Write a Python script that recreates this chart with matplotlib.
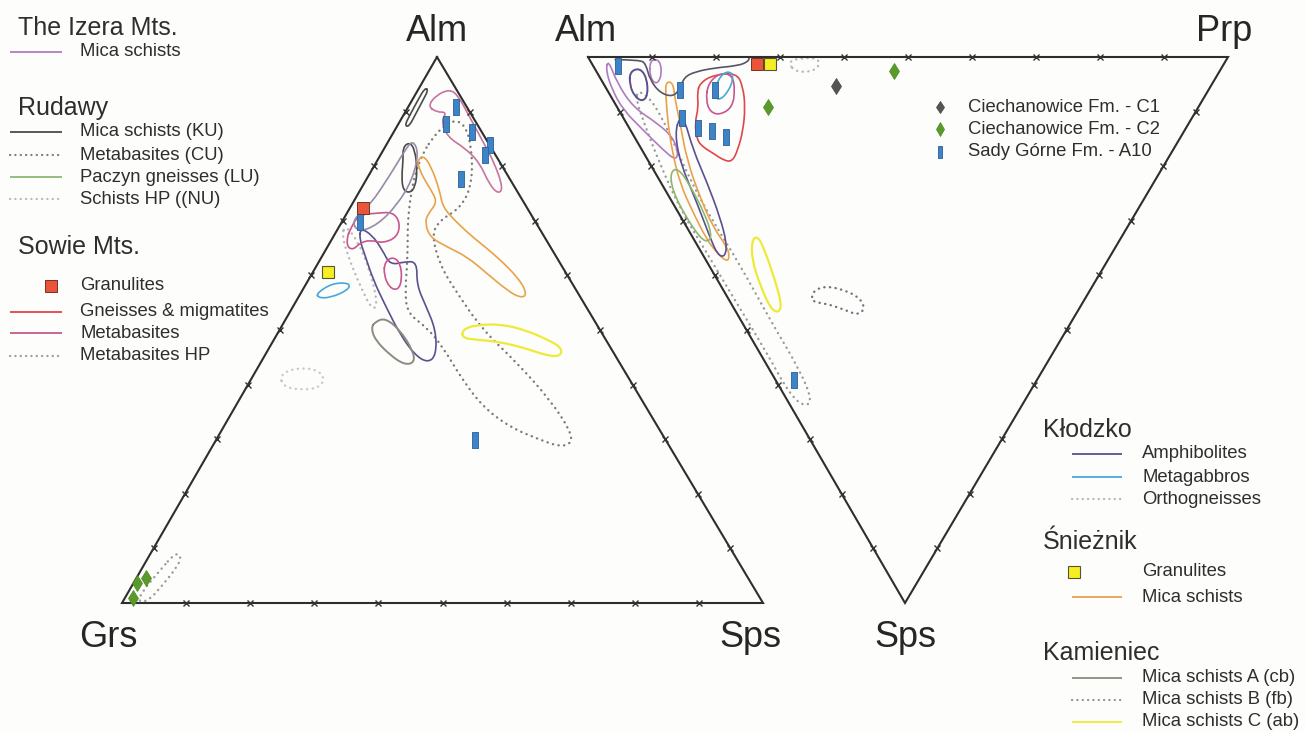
import numpy as np
import matplotlib
matplotlib.use('Agg')
import matplotlib.pyplot as plt
from matplotlib.path import Path
from matplotlib.patches import PathPatch

plt.rcParams['font.family'] = ['Liberation Sans', 'DejaVu Sans']

# ---- data: garnet end-member compositions (%) ----
# left diagram: [Alm, Sps]  (Grs = 100 - Alm - Sps)
tick_values = [10, 20, 30, 40, 50, 60, 70, 80, 90]

sniez_mica_L = [[81, 6.3], [82, 6.7], [80, 8.9], [75.6, 12.4], [72.5, 14.4], [69.6, 18.1],
                [67, 21.8], [63.4, 27.4], [59.2, 33], [56.4, 35.5], [55.9, 34.6], [57.3, 31.9],
                [60.4, 27.2], [63.4, 22.7], [65.2, 18.7], [67, 15.1], [69.6, 13.1], [71.1, 12.7],
                [73.3, 13.1], [75.1, 11.6], [78, 8.6], [80.2, 6.8]]
sowie_meta_top_L = [[91.0, 3.0], [93.0, 3.3], [94.1, 4.9], [92.9, 6.8], [89.0, 10.5], [84.8, 14.5],
                    [80.6, 18.5], [76.0, 22.1], [74.9, 21.9], [76.7, 19.6], [80.6, 16.2],
                    [83.3, 12.6], [85.3, 8.9], [88.3, 6.4], [89.9, 6.5], [89.9, 4.9]]
rud_ku1_L = [[94.3, 0.9], [92.1, 0.9], [89.4, 1.0], [87.5, 1.1], [87.2, 1.9], [89.6, 1.8],
             [92.1, 1.7], [94.0, 1.6]]
rud_ku2_L = [[83.5, 2.8], [84.4, 3.4], [83.0, 4.9], [79.3, 7.1], [76.2, 8.3], [75.1, 8.0],
             [75.6, 6.7], [78.0, 5.3], [81.1, 4.0]]
klodzko_amph_L = [[68.7, 3.4], [67.4, 5.9], [64.7, 8.8], [61.9, 11.4], [62.5, 13.4], [62.5, 15.3],
                  [58.2, 17.4], [54.6, 20.5], [50.0, 24.4], [45.4, 26.7], [44.0, 26.1],
                  [45.4, 23.4], [49.1, 19.3], [54.6, 14.2], [59.2, 10.1], [63.7, 6.6], [66.5, 4.4]]
kam_a_L = [[51.5, 14.2], [52.2, 15.4], [50.0, 18.8], [46.3, 22.6], [44.1, 24.0], [43.6, 22.7],
           [45.4, 19.5], [48.2, 15.8], [50.4, 14.1]]
kam_c_L = [[50.0, 28.5], [50.9, 30.0], [51.1, 33.9], [50.0, 38.3], [48.2, 42.8], [46.7, 45.7],
           [45.1, 46.2], [45.4, 43.7], [46.7, 39.9], [47.8, 35.5], [48.2, 31.9], [48.5, 29.3]]
klodzko_gab_L = [[56.8, 2.5], [58.6, 4.1], [58.6, 6.8], [57.3, 7.1], [55.9, 5.0], [55.9, 3.1]]
ortho_L = [[41.8, 4.1], [43.0, 5.8], [42.9, 9.0], [41.4, 11.3], [39.4, 11.5], [39.0, 8.6], [39.7, 5.6]]
rud_cu_grs_L = [[9.2, 3.8], [8.6, 5.0], [6.8, 5.4], [2.7, 4.6], [0.4, 3.9], [0.2, 2.4],
                [2.0, 2.1], [6.0, 3.0]]
sowie_meta_a_L = [[68.3, 2.0], [71.1, 1.9], [71.4, 4.7], [71.6, 7.1], [69.6, 9.2], [67.0, 10.0],
                  [65.9, 8.3], [66.5, 6.0], [65.9, 4.7], [64.7, 4.3], [65.2, 3.1], [67.0, 2.2]]
sowie_meta_b_L = [[62.5, 10.3], [63.4, 11.1], [62.3, 12.8], [59.2, 14.6], [57.3, 14.9],
                  [57.7, 13.4], [60.1, 11.3]]
izera_mica_L = [[70.1, 1.4], [72.9, 2.9], [78.4, 3.3], [83.0, 3.4], [84.8, 3.7], [82.4, 5.8],
                [77.5, 7.2], [72.9, 7.1], [69.2, 5.8], [67.9, 3.4]]
rud_cu_L = [[87.0, 6.8], [88.8, 8.8], [85.7, 12.2], [77.5, 16.7], [72.5, 17.4], [70.1, 15.1],
            [67.4, 15.2], [61.9, 19.2], [57.3, 23.8], [50.0, 31.7], [44.0, 40.0], [37.2, 48.5],
            [31.7, 54.3], [29.3, 55.8], [28.6, 54.3], [29.9, 50.5], [32.2, 44.7], [35.9, 38.7],
            [40.8, 33.1], [46.9, 27.0], [50.5, 22.7], [53.1, 18.4], [57.3, 16.0], [62.8, 13.7],
            [72.0, 9.2], [81.1, 6.3]]
sowie_hp_L = [[69.2, 0.8], [66.5, 4.0], [61.0, 8.7], [54.6, 13.1], [53.7, 12.6], [58.2, 8.5],
              [63.7, 3.9], [67.4, 1.2]]

a10_L = [[90.8, 7.5], [87.7, 7.4], [86.3, 12.2], [83.9, 16.2], [82.1, 16.3], [77.7, 14.7],
         [69.8, 2.8], [29.9, 40.4]]
c2_L = [[3.7, 0.5], [4.6, 1.5], [0.9, 1.3]]
sowie_gran_L = [[72.3, 2.0]]
sniez_gran_L = [[60.6, 2.3]]

# right diagram: [Prp, Sps]  (Alm = 100 - Prp - Sps)
sowie_gneiss_R = [[15.1, 4.8], [17.9, 3.3], [21.8, 2.9], [21.5, 5.5], [20.0, 9.2], [17.6, 13.4],
                  [15.0, 17.0], [13.0, 19.2], [11.8, 18.9], [10.8, 17.6], [9.8, 16.5],
                  [9.5, 15.2], [10.7, 12.1], [12.7, 9.2], [13.8, 6.6]]
sowie_meta_R = [[16.4, 4.8], [19.2, 2.9], [20.9, 3.3], [20.0, 6.0], [18.0, 9.2], [15.4, 10.6],
                [14.1, 10.1], [14.5, 7.9]]
klodzko_gab_R = [[17.1, 5.5], [19.6, 2.9], [21.1, 2.7], [20.6, 4.2], [18.7, 6.4], [16.7, 7.9],
                 [16.2, 7.3]]
sniez_mica_R = [[9.8, 4.6], [11.0, 4.6], [9.7, 7.9], [8.4, 12.1], [6.1, 18.9], [4.8, 25.6],
                [4.1, 31.1], [4.5, 34.8], [4.0, 36.6], [3.1, 37.5], [2.4, 35.9], [2.0, 33.5],
                [2.3, 28.6], [2.9, 23.1], [4.7, 17.0], [6.5, 12.1], [8.3, 7.9]]
klodzko_amph_R = [[8.9, 11.0], [9.4, 11.5], [8.0, 17.0], [7.2, 23.1], [6.1, 29.3], [4.8, 34.1],
                  [3.3, 36.6], [2.3, 36.3], [2.7, 33.0], [3.8, 26.7], [4.8, 19.4], [6.7, 13.9]]
rud_lu_R = [[2.4, 21.1], [4.0, 20.3], [4.3, 23.4], [4.0, 28.9], [3.2, 32.6], [2.0, 33.9],
            [1.1, 33.2], [0.8, 28.9], [1.1, 24.4]]
klodzko_amph2_R = [[5.2, 2.7], [7.1, 2.0], [7.3, 3.8], [5.9, 7.0], [4.4, 8.2], [3.7, 7.1], [4.0, 5.1]]
izera_mica_R = [[2.9, 0.5], [2.2, 4.8], [2.5, 9.2], [4.8, 12.1], [6.0, 14.7], [5.4, 17.6],
                [4.3, 18.9], [3.3, 17.0], [2.0, 13.4], [0.7, 9.7], [0.8, 6.0], [1.6, 2.4]]
izera_mica2_R = [[9.4, 0.5], [11.0, 0.5], [9.9, 3.3], [8.2, 5.1], [7.8, 3.8]]
rud_ku_R = [[4.0, 0.5], [7.9, 0.5], [8.4, 1.3], [7.6, 4.2], [8.0, 6.6], [9.7, 7.3], [11.6, 5.7],
            [13.2, 3.7], [15.4, 2.7], [18.8, 2.0], [22.6, 1.6], [24.5, 0.9], [25.1, 0.2]]
sowie_hp_R = [[4.8, 6.0], [6.1, 7.9], [5.9, 13.4], [4.8, 22.5], [4.6, 29.9], [4.9, 38.1],
              [4.6, 48.2], [4.7, 57.3], [3.9, 62.8], [2.2, 64.1], [0.9, 61.9], [1.1, 53.7],
              [0.9, 44.5], [0.8, 36.3], [0.6, 28.0], [1.5, 19.8], [2.7, 12.5], [3.6, 7.9]]
kam_c_R = [[9.0, 33.5], [10.3, 32.8], [10.1, 35.3], [9.0, 40.8], [7.8, 45.4], [6.5, 46.9],
           [5.7, 46.0], [6.2, 41.8], [7.2, 37.2]]
kam_b_R = [[13.7, 43.0], [16.3, 41.9], [19.0, 42.7], [20.6, 44.1], [20.5, 46.0], [18.8, 47.3],
           [17.2, 46.3], [14.7, 45.1], [12.8, 44.9]]
rud_nu_R = [[30.8, 0.9], [33.0, 0.2], [35.8, 0.2], [35.4, 1.6], [33.6, 2.7], [31.0, 2.7]]

a10_R = [[3.9, 1.6], [11.4, 6.0], [9.2, 11.2], [10.8, 13.0], [12.7, 13.6], [14.3, 14.7],
         [16.8, 6.0], [2.9, 59.2]]
c1_R = [[36.1, 5.3]]
c2_R = [[46.5, 2.6], [23.6, 9.2]]
sowie_gran_R = [[25.8, 1.3]]
sniez_gran_R = [[27.8, 1.3]]

# ---- colours ----
C_IZERA = '#b07cc0'
C_KU = '#4a4a4a'
C_CU = '#7a7a7a'
C_LU = '#8cb870'
C_NU = '#b8b8b8'
C_GNEISS = '#e0464a'
C_META = '#c8568f'
C_HP = '#9a9a9a'
C_AMPH = '#5b4f8f'
C_GAB = '#45a9d9'
C_ORTHO = '#b4b4bc'
C_SNMICA = '#e8a24a'
C_KA = '#8f8a80'
C_KB = '#9090a0'
C_KC = '#eeea3a'
DOT = (0, (0.1, 2.3))

# ---- triangle geometry (pixels) ----
L_ALM, L_GRS, L_SPS = (437, 57), (122, 603), (763, 603)
R_ALM, R_PRP, R_SPS = (588, 57), (1228, 57), (905, 603)


def left_xy(pts):
    pts = np.asarray(pts, float) / 100.0
    a, s = pts[:, 0], pts[:, 1]
    g = 1 - a - s
    x = a * L_ALM[0] + g * L_GRS[0] + s * L_SPS[0]
    y = a * L_ALM[1] + g * L_GRS[1] + s * L_SPS[1]
    return np.column_stack([x, y])


def right_xy(pts):
    pts = np.asarray(pts, float) / 100.0
    p, s = pts[:, 0], pts[:, 1]
    a = 1 - p - s
    x = a * R_ALM[0] + p * R_PRP[0] + s * R_SPS[0]
    y = a * R_ALM[1] + p * R_PRP[1] + s * R_SPS[1]
    return np.column_stack([x, y])


def outline(ax, xy, color, ls='-', lw=1.2, closed=True):
    xy = np.asarray(xy)
    if closed:
        mids = (xy + np.roll(xy, -1, axis=0)) / 2
        verts = [mids[-1]]
        codes = [Path.MOVETO]
        for i in range(len(xy)):
            verts += [xy[i], mids[i]]
            codes += [Path.CURVE3, Path.CURVE3]
    else:
        verts = [xy[0]]
        codes = [Path.MOVETO]
        for i in range(1, len(xy) - 1):
            verts += [xy[i], (xy[i] + xy[i + 1]) / 2]
            codes += [Path.CURVE3, Path.CURVE3]
        verts.append(xy[-1])
        codes.append(Path.LINETO)
    ax.add_patch(PathPatch(Path(verts, codes), fill=False, edgecolor=color,
                           lw=lw, linestyle=ls, capstyle='round', zorder=3))


fig = plt.figure(figsize=(13.05, 7.32), dpi=100)
fig.patch.set_facecolor('#fdfdfb')
ax = fig.add_axes([0, 0, 1, 1])
ax.set_xlim(0, 1305)
ax.set_ylim(732, 0)
ax.axis('off')

# triangles
for tri in [(L_ALM, L_GRS, L_SPS), (R_ALM, R_PRP, R_SPS)]:
    xs = [p[0] for p in tri] + [tri[0][0]]
    ys = [p[1] for p in tri] + [tri[0][1]]
    ax.plot(xs, ys, color='#2e2e2e', lw=1.5, zorder=4, solid_joinstyle='miter')

t = np.array(tick_values, float)
z = np.zeros_like(t)
tick_sets = [
    left_xy(np.column_stack([t, z])),          # Grs-Alm edge
    left_xy(np.column_stack([z, t])),          # Grs-Sps edge
    left_xy(np.column_stack([100 - t, t])),    # Alm-Sps edge
    right_xy(np.column_stack([t, z])),         # Alm-Prp edge
    right_xy(np.column_stack([z, t])),         # Alm-Sps edge
    right_xy(np.column_stack([100 - t, t])),   # Prp-Sps edge
]
for tk in tick_sets:
    ax.plot(tk[:, 0], tk[:, 1], ls='none', marker='x', ms=4.5, mew=1.0,
            color='#333333', zorder=5)

# vertex labels
lab = dict(fontsize=26, color='#262626', ha='center', va='baseline')
ax.text(437, 41, 'Alm', **lab)
ax.text(108, 647, 'Grs', **lab)
ax.text(750, 647, 'Sps', **lab)
ax.text(586, 41, 'Alm', **lab)
ax.text(1224, 41, 'Prp', **lab)
ax.text(905, 647, 'Sps', **lab)

# ---- left diagram fields ----
outline(ax, left_xy(rud_cu_L), C_CU, DOT, 1.7)
outline(ax, left_xy(sowie_hp_L), C_NU, DOT, 1.7)
outline(ax, left_xy(ortho_L), '#c8c8d2', DOT, 1.7)
outline(ax, left_xy(rud_cu_grs_L), C_HP, DOT, 1.7)
outline(ax, left_xy(sniez_mica_L), C_SNMICA)
outline(ax, left_xy(sowie_meta_top_L), '#c8749e')
outline(ax, left_xy(rud_ku1_L), C_KU)
outline(ax, left_xy(rud_ku2_L), C_KU)
outline(ax, left_xy(klodzko_amph_L), C_AMPH)
outline(ax, left_xy(kam_a_L), C_KA, lw=1.4)
outline(ax, left_xy(kam_c_L), C_KC, lw=1.6)
outline(ax, left_xy(klodzko_gab_L), C_GAB)
outline(ax, left_xy(sowie_meta_a_L), C_META)
outline(ax, left_xy(sowie_meta_b_L), C_META)
outline(ax, left_xy(izera_mica_L), '#9a8aa6')

# ---- right diagram fields ----
outline(ax, right_xy(sowie_hp_R), C_HP, DOT, 1.7)
outline(ax, right_xy(kam_b_R), '#707080', DOT, 1.7)
outline(ax, right_xy(rud_nu_R), C_NU, DOT, 1.7)
outline(ax, right_xy(izera_mica_R), C_IZERA)
outline(ax, right_xy(izera_mica2_R), C_IZERA)
outline(ax, right_xy(sniez_mica_R), C_SNMICA)
outline(ax, right_xy(klodzko_amph_R), C_AMPH)
outline(ax, right_xy(klodzko_amph2_R), C_AMPH, lw=1.4)
outline(ax, right_xy(rud_lu_R), C_LU)
outline(ax, right_xy(sowie_gneiss_R), C_GNEISS)
outline(ax, right_xy(sowie_meta_R), C_META)
outline(ax, right_xy(klodzko_gab_R), C_GAB)
outline(ax, right_xy(kam_c_R), C_KC, lw=1.6)
outline(ax, right_xy(rud_ku_R), '#555566', closed=False)

# ---- points ----
bar_marker = [(-0.4, -1), (0.4, -1), (0.4, 1), (-0.4, 1), (-0.4, -1)]
pt_styles = {
    'a10': dict(marker=bar_marker, ms=11, mfc='#3d84c6', mec='#2a5f9a', mew=0.6),
    'c1': dict(marker='d', ms=8, mfc='#555555', mec='#444444', mew=0.5),
    'c2': dict(marker='d', ms=8.5, mfc='#5a9a2a', mec='#4a8a22', mew=0.5),
    'sowie': dict(marker='s', ms=8, mfc='#e8553a', mec='#7a3020', mew=0.7),
    'sniez': dict(marker='s', ms=8, mfc='#f5ee20', mec='#555533', mew=0.8),
}
for pts, key in [(a10_L, 'a10'), (c2_L, 'c2'), (sowie_gran_L, 'sowie'), (sniez_gran_L, 'sniez')]:
    xy = left_xy(pts)
    ax.plot(xy[:, 0], xy[:, 1], ls='none', zorder=6, **pt_styles[key])
for pts, key in [(a10_R, 'a10'), (c1_R, 'c1'), (c2_R, 'c2'), (sowie_gran_R, 'sowie'),
                 (sniez_gran_R, 'sniez')]:
    xy = right_xy(pts)
    ax.plot(xy[:, 0], xy[:, 1], ls='none', zorder=6, **pt_styles[key])

# ---- legends ----
HEAD = dict(fontsize=18, color='#2e2e2e', va='center', ha='left')
ITEM = dict(fontsize=13.3, color='#2e2e2e', va='center', ha='left')


def leg_line(x0, x1, y, color, ls='-'):
    ax.plot([x0, x1], [y, y], color=color, ls=ls, lw=1.3 if ls == '-' else 1.6,
            solid_capstyle='butt', dash_capstyle='round')


# left block
ax.text(18, 28, 'The Izera Mts.', **HEAD)
leg_line(10, 62, 52, C_IZERA)
ax.text(80, 52, 'Mica schists', **ITEM)

ax.text(18, 108, 'Rudawy', **HEAD)
left_items = [(132, 'Mica schists (KU)', C_KU, '-'),
              (155, 'Metabasites (CU)', C_CU, DOT),
              (177, 'Paczyn gneisses (LU)', C_LU, '-'),
              (199, 'Schists HP ((NU)', C_NU, DOT)]
for y, txt, c, ls in left_items:
    leg_line(10, 62, y, c, ls)
    ax.text(80, y, txt, **ITEM)

ax.text(18, 247, 'Sowie Mts.', **HEAD)
ax.plot([51], [286], ls='none', **pt_styles['sowie'])
ax.text(80, 286, 'Granulites', **ITEM)
for y, txt, c, ls in [(312, 'Gneisses & migmatites', C_GNEISS, '-'),
                      (333, 'Metabasites', C_META, '-'),
                      (356, 'Metabasites HP', C_HP, DOT)]:
    leg_line(10, 62, y, c, ls)
    ax.text(80, y, txt, **ITEM)

# right block
ax.text(1043, 430, 'Kłodzko', **HEAD)
for y, txt, c, ls in [(454, 'Amphibolites', C_AMPH, '-'),
                      (477, 'Metagabbros', C_GAB, '-'),
                      (499, 'Orthogneisses', C_ORTHO, DOT)]:
    leg_line(1072, 1122, y, c, ls)
    ax.text(1142, y, txt, **ITEM)

ax.text(1043, 542, 'Śnieżnik', **HEAD)
ax.plot([1074], [572], ls='none', **pt_styles['sniez'])
ax.text(1142, 572, 'Granulites', **ITEM)
leg_line(1072, 1122, 597, C_SNMICA)
ax.text(1142, 597, 'Mica schists', **ITEM)

ax.text(1043, 653, 'Kamieniec', **HEAD)
for y, txt, c, ls in [(678, 'Mica schists A (cb)', C_KA, '-'),
                      (700, 'Mica schists B (fb)', C_KB, DOT),
                      (722, 'Mica schists C (ab)', C_KC, '-')]:
    leg_line(1072, 1122, y, c, ls)
    ax.text(1142, y, txt, **ITEM)

# point legend
for y, txt, key in [(107, 'Ciechanowice Fm. - C1', 'c1'),
                    (129, 'Ciechanowice Fm. - C2', 'c2'),
                    (152, 'Sady Górne Fm. - A10', 'a10')]:
    st = dict(pt_styles[key])
    st['ms'] = st['ms'] * 0.8
    ax.plot([940], [y], ls='none', **st)
    ax.text(968, y, txt, **ITEM)

fig.savefig('out.png', dpi=100, facecolor=fig.get_facecolor())
